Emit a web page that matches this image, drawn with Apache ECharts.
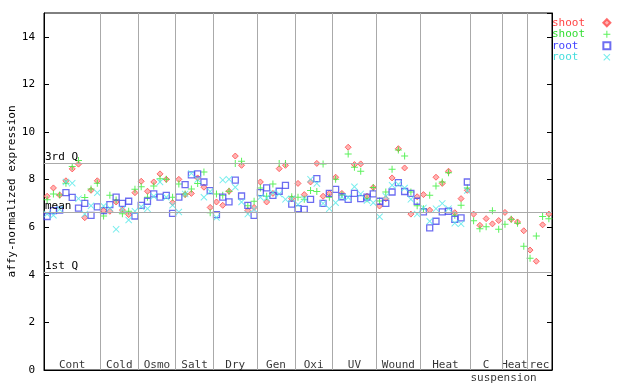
<!DOCTYPE html>
<html><head><meta charset="utf-8">
<script src="https://cdn.jsdelivr.net/npm/echarts@6/dist/echarts.min.js"></script>
<style>html,body{margin:0;padding:0;background:#fff}#c{width:640px;height:384px}</style>
</head><body><div id="c"></div>
<script>
const groupNames = ['Cont','Cold','Osmo','Salt','Dry','Gen','Oxi','UV','Wound','Heat','C','Heat','rec'];
const groupSubLabels = ['','','','','','','','','','','suspension','',''];
const groupSizes = [9,6,6,6,7,6,6,7,7,8,5,4,4];

const shoot1 = [7.3,7.65,7.35,7.95,8.45,8.65,6.4,7.55,7.95,
  6.7,6.67,7.06,6.72,6.53,7.45,
  7.93,7.51,7.9,8.24,8.01,7.03,
  8.01,7.37,7.42,8.07,7.68,6.83,
  7.06,6.92,7.51,8.99,8.6,6.7,6.83,
  7.9,7.06,7.42,8.46,8.6,7.2,
  7.84,7.37,7.9,8.68,7.3,7.42,
  8.1,7.42,9.36,8.63,8.66,7.3,7.67,
  6.89,7.2,8.07,9.3,8.49,6.55,7.28,
  7.37,6.72,8.1,7.84,8.35,6.61,7.2,7.55,
  6.55,6.08,6.36,6.14,6.28,
  6.62,6.33,6.22,5.85,
  5.04,4.57,6.1,6.55];
const shoot2 = [7.15,7.4,7.35,7.85,8.55,8.8,7.25,7.6,7.85,
  6.47,7.34,7.14,6.56,6.67,7.59,
  7.7,7.26,7.73,8.04,8.01,7.26,
  7.82,7.4,7.6,7.84,8.32,6.61,
  7.4,7.34,7.51,8.68,8.77,6.9,7.09,
  7.65,7.3,7.82,8.68,8.68,7.28,
  7.26,7.17,7.54,7.5,8.66,7.26,
  8.01,7.35,9.08,8.52,8.35,7.2,7.67,
  7.1,7.48,8.43,9.24,8.99,7.48,6.9,
  6.78,7.34,7.73,7.9,8.29,6.5,6.92,7.65,
  6.27,5.94,6.02,6.69,5.91,
  6.12,6.33,6.17,5.2,
  4.7,5.63,6.45,6.35];
const root1 = [6.45,6.7,6.72,7.45,7.25,6.8,7.0,6.5,6.85,
  6.7,6.95,7.26,7.0,7.09,6.47,
  6.92,7.09,7.4,7.26,7.34,6.58,
  7.26,7.79,8.2,8.24,7.9,7.54,
  6.53,7.26,7.06,7.98,7.31,6.92,6.5,
  7.45,7.65,7.34,7.51,7.76,6.97,
  6.78,6.75,7.17,8.04,7.0,7.42,
  7.59,7.28,7.17,7.42,7.2,7.26,7.4,
  7.09,7.0,7.48,7.87,7.5,7.42,7.09,
  6.64,5.97,6.25,6.64,6.67,6.33,6.39,7.9,
  null,null,null,null,null,
  null,null,null,null,
  null,null,null,null];
const root2 = [6.55,6.5,6.75,7.9,7.85,7.2,6.55,6.9,7.45,
  6.89,6.8,5.91,6.75,6.3,6.67,
  6.86,6.78,7.3,7.9,7.26,6.92,
  6.64,7.4,8.26,8.0,7.26,7.5,
  6.41,7.98,8.01,7.68,7.06,6.55,6.75,
  7.26,7.23,7.45,7.4,7.17,7.2,
  6.95,7.2,8.01,7.84,7.0,6.78,
  7.03,7.28,7.25,7.7,7.4,7.12,7.03,
  6.44,7.3,7.76,7.8,7.65,7.17,6.55,
  6.81,6.25,6.78,7.0,6.78,6.17,6.14,7.54,
  null,null,null,null,null,
  null,null,null,null,
  null,null,null,null];

const refLabels = ['3rd Q','mean','1st Q'];
const refValues = [8.68, 6.62, 4.10];
const yMin = 0, yMax = 15, yInterval = 2;
const groupLabelY = 0.45;

const FONT = 'DejaVu Sans Mono';
const nSamples = groupSizes.reduce((a,b)=>a+b,0);
const starts = [];
let acc = 0;
groupSizes.forEach(s => { starts.push(acc); acc += s; });
const boundaries = starts.slice(1);
const toData = arr => arr.map((v,i) => [i + 0.5, v]);

const PLUS = 'path://M3,0h1v3h3v1h-3v3h-1v-3h-3v-1h3z';
const CROSS = 'path://M0,0.7L0.7,0L3.5,2.8L6.3,0L7,0.7L4.2,3.5L7,6.3L6.3,7L3.5,4.2L0.7,7L0,6.3L2.8,3.5Z';

const chart = echarts.init(document.getElementById('c'), null, {renderer:'canvas'});
chart.setOption({
  animation: false,
  backgroundColor: '#fff',
  grid: {left: 44, right: 88, top: 13, bottom: 14, show: true, borderColor: '#000', borderWidth: 1,
         backgroundColor: 'transparent', outerBoundsMode: 'none', containLabel: false},
  legend: {
    orient: 'vertical', left: 552, top: 17, align: 'right', padding: 0,
    itemWidth: 7, itemHeight: 7, itemGap: 0,
    selectedMode: false,
    formatter: n => n.trim().padEnd(7, ' '),
    textStyle: {fontFamily: FONT, fontSize: 11, lineHeight: 11.5},
    data: [
      {name: 'shoot', textStyle: {color: '#ff4444'}},
      {name: 'shoot ', textStyle: {color: '#33dd33'}},
      {name: 'root', textStyle: {color: '#4444ff'}},
      {name: 'root ', textStyle: {color: '#44dddd'}}
    ]
  },
  xAxis: {
    type: 'value', min: 0, max: nSamples,
    axisLine: {show: true, lineStyle: {color: '#000', width: 1}},
    axisTick: {show: false}, axisLabel: {show: false}, splitLine: {show: false}
  },
  yAxis: [{
    type: 'value', min: yMin, max: yMax, interval: yInterval,
    name: 'affy-normalized expression', nameLocation: 'middle', nameGap: 26, nameMoveOverlap: false,
    nameTextStyle: {fontFamily: FONT, fontSize: 11, color: '#000'},
    axisLine: {show: true, lineStyle: {color: '#000', width: 1}},
    axisTick: {show: true, inside: true, length: 5, lineStyle: {color: '#000'}},
    axisLabel: {fontFamily: FONT, fontSize: 11, color: '#000', margin: 9, showMaxLabel: false},
    splitLine: {show: false}
  }, {
    type: 'value', min: yMin, max: yMax, interval: yInterval, position: 'right',
    axisLine: {show: true, lineStyle: {color: '#000', width: 1}},
    axisTick: {show: true, inside: true, length: 5, lineStyle: {color: '#000'}},
    axisLabel: {show: false}, splitLine: {show: false}
  }],
  series: [
    {
      name: 'guides', type: 'scatter', data: [], silent: true,
      markLine: {
        silent: true, symbol: 'none', animation: false,
        lineStyle: {color: '#aaaaaa', width: 1, type: 'solid'},
        label: {show: false},
        emphasis: {disabled: true},
        data: boundaries.map(b => ({xAxis: b})).concat(refValues.map((v,k) => ({
          yAxis: v,
          label: {show: true, formatter: refLabels[k], position: 'insideStartTop', distance: [1, 1],
                  fontFamily: FONT, fontSize: 11, color: '#000'}
        })))
      }
    },
    {name: 'shoot', type: 'scatter', data: toData(shoot1), symbol: 'diamond', symbolSize: 6,
     itemStyle: {color: '#ffa0a0', borderColor: '#ff4a4a', borderWidth: 1}},
    {name: 'shoot ', type: 'scatter', data: toData(shoot2), symbol: PLUS, symbolSize: 7,
     itemStyle: {color: '#33ee33'}},
    {name: 'root', type: 'scatter', data: toData(root1), symbol: 'rect', symbolSize: 6,
     itemStyle: {color: 'rgba(255,255,255,0)', borderColor: '#4848ee', borderWidth: 1.3}},
    {name: 'root ', type: 'scatter', data: toData(root2), symbol: CROSS, symbolSize: 7,
     itemStyle: {color: '#55e8e8'}},
    {
      name: 'groups', type: 'scatter', silent: true, symbolSize: 0,
      data: groupNames.map((g,k) => ({value: [starts[k] + groupSizes[k]/2, groupLabelY], name: g})),
      label: {show: true, position: 'bottom', distance: 0, formatter: p => p.name,
              fontFamily: FONT, fontSize: 11, color: '#000'}
    },
    {
      name: 'subgroups', type: 'scatter', silent: true, symbolSize: 0,
      data: groupSubLabels.map((s,k) => ({value: [starts[k], groupLabelY], name: s})).filter(d => d.name),
      label: {show: true, position: 'bottom', distance: 13, align: 'left', formatter: p => p.name,
              fontFamily: FONT, fontSize: 11, color: '#000'}
    }
  ]
});
</script></body></html>
